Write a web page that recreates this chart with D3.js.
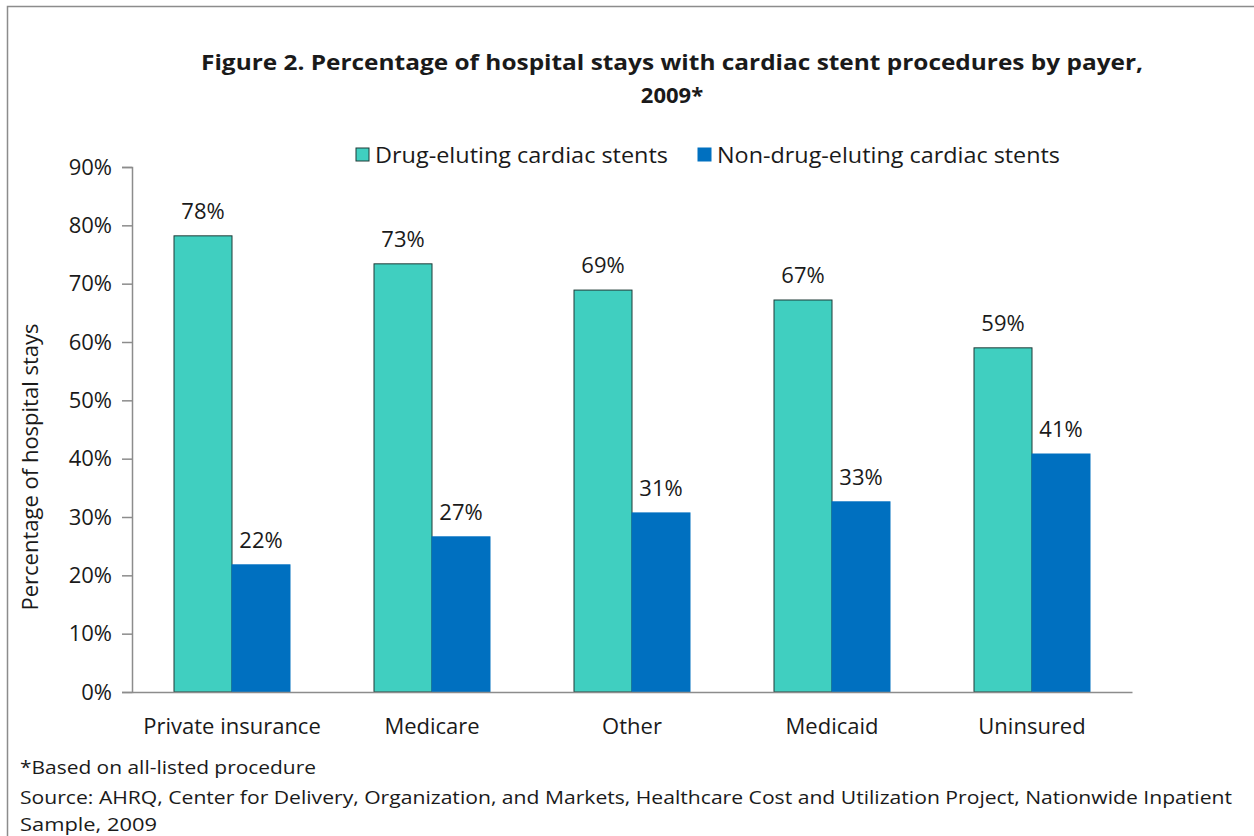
<!DOCTYPE html>
<html>
<head>
<meta charset="utf-8">
<script src="https://cdn.jsdelivr.net/npm/d3@7"></script>
<style>
  body { margin: 0; background: #fff; }
  svg text { font-family: "Open Sans", "Noto Sans", sans-serif; fill: #1a1a1a; }
</style>
</head>
<body>
<div id="container"></div>
<script>
// chart data
var payers = ["Private insurance", "Medicare", "Other", "Medicaid", "Uninsured"];
var drugEluting = [78.2, 73.4, 68.9, 67.2, 59.0];
var nonDrugEluting = [21.8, 26.6, 30.7, 32.6, 40.8];
var seriesNames = ["Drug-eluting cardiac stents", "Non-drug-eluting cardiac stents"];
var seriesColors = ["#40cfc0", "#0070c0"];
var yTicks = [0, 10, 20, 30, 40, 50, 60, 70, 80, 90];

var width = 1254, height = 836;
var svg = d3.select("div#container").append("svg")
    .attr("width", width)
    .attr("height", height);

// outer frame
svg.append("rect")
    .attr("x", 7.5).attr("y", 6.5)
    .attr("width", width + 10).attr("height", height + 10)
    .attr("fill", "none").attr("stroke", "#8c8c8c").attr("stroke-width", 1.5);

// title
svg.append("text").attr("x", 672).attr("y", 70)
    .attr("text-anchor", "middle").style("font-size", "22px").style("font-weight", "bold")
    .attr("textLength", 942).attr("lengthAdjust", "spacingAndGlyphs")
    .text("Figure 2. Percentage of hospital stays with cardiac stent procedures by payer,");
svg.append("text").attr("x", 672).attr("y", 103)
    .attr("text-anchor", "middle").style("font-size", "22px").style("font-weight", "bold")
    .text("2009*");

var plot = {left: 132, right: 1132, top: 167, bottom: 692};

var x0 = d3.scaleBand().domain(payers).range([plot.left, plot.right]).paddingInner(0).paddingOuter(0);
var x1 = d3.scaleBand().domain([0, 1]).range([42, 158]);
var y = d3.scaleLinear().domain([0, 90]).range([plot.bottom, plot.top]);

// y axis
var yAxis = d3.axisLeft(y).tickValues(yTicks).tickSize(10).tickPadding(10)
    .tickFormat(function(d) { return d + "%"; });
var gy = svg.append("g").attr("transform", "translate(" + plot.left + ",0)").call(yAxis);
gy.selectAll("path, line").attr("stroke", "#8c8c8c").attr("stroke-width", 1.5);
gy.selectAll("text").style("font-size", "22px").attr("fill", "#1a1a1a");

// bars
var groups = svg.append("g").selectAll("g")
    .data(payers).enter().append("g")
    .attr("transform", function(d) { return "translate(" + x0(d) + ",0)"; });

var allSeries = [drugEluting, nonDrugEluting];
groups.each(function(p, i) {
  var g = d3.select(this);
  allSeries.forEach(function(vals, s) {
    g.append("rect")
      .attr("x", x1(s))
      .attr("y", y(vals[i]))
      .attr("width", x1.bandwidth())
      .attr("height", y(0) - y(vals[i]))
      .attr("fill", seriesColors[s])
      .attr("stroke", s === 0 ? "#1e3a36" : seriesColors[s])
      .attr("stroke-width", 1);
    g.append("text")
      .attr("x", x1(s) + x1.bandwidth() / 2)
      .attr("y", y(vals[i]) - 17)
      .attr("text-anchor", "middle")
      .style("font-size", "22px")
      .text(Math.round(vals[i]) + "%");
  });
});

// x axis
var xAxis = d3.axisBottom(x0).tickSize(0).tickPadding(26);
var gx = svg.append("g").attr("transform", "translate(0," + plot.bottom + ")").call(xAxis);
gx.select("path").attr("stroke", "#8c8c8c").attr("stroke-width", 1.5);
gx.selectAll("text").style("font-size", "22px").attr("fill", "#1a1a1a");

// y title
svg.append("text")
    .attr("transform", "translate(38,467) rotate(-90)")
    .attr("text-anchor", "middle").style("font-size", "22px")
    .text("Percentage of hospital stays");

// legend
var legendX = [356, 698];
var legendW = [293, 343];
seriesNames.forEach(function(name, s) {
  svg.append("rect").attr("x", legendX[s]).attr("y", 148)
    .attr("width", 13).attr("height", 13)
    .attr("fill", seriesColors[s])
    .attr("stroke", s === 0 ? "#1e3a36" : seriesColors[s]);
  svg.append("text").attr("x", legendX[s] + 19).attr("y", 163)
    .style("font-size", "22px")
    .attr("textLength", legendW[s]).attr("lengthAdjust", "spacingAndGlyphs")
    .text(name);
});

// footer notes
var notes = [
  {t: "*Based on all-listed procedure", y: 774, w: 296},
  {t: "Source: AHRQ, Center for Delivery, Organization, and Markets, Healthcare Cost and Utilization  Project, Nationwide Inpatient", y: 804, w: 1212},
  {t: "Sample,  2009", y: 831, w: 137}
];
notes.forEach(function(n) {
  svg.append("text").attr("x", 20).attr("y", n.y)
    .style("font-size", "19px")
    .attr("textLength", n.w).attr("lengthAdjust", "spacingAndGlyphs")
    .text(n.t);
});
</script>
</body>
</html>
